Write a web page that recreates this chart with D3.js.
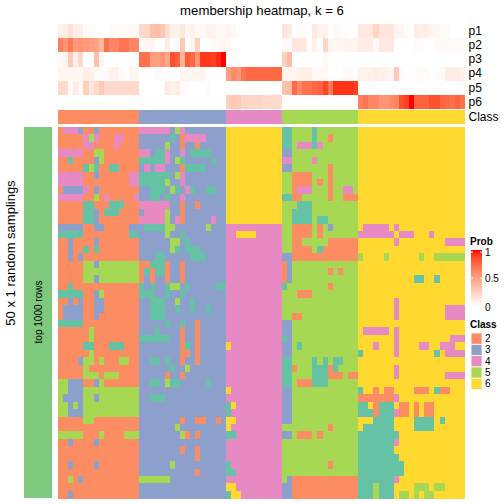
<!DOCTYPE html>
<html>
<head>
<meta charset="utf-8">
<script src="https://cdn.jsdelivr.net/npm/d3@7/dist/d3.min.js"></script>
<style>
html,body{margin:0;padding:0;background:#fff}
text{font-family:"Liberation Sans",Arial,sans-serif;fill:#000}
</style>
</head>
<body>
<svg id="chart" width="504" height="504"></svg>
<script>
const groupNames = [2,3,4,5,6];
const groupSizes = [16,17,11,15,21];
const legendClasses = ["2","3","4","5","6"];
const probRows = ["p1","p2","p3","p4","p5","p6"];
const p1 = [.07,.1,.16,.09,.09,.03,.03,0,0,0,.03,.03,.03,.01,.04,.04,
 .2,.22,.33,.35,.3,.17,.08,.08,.12,.05,.08,.04,.04,.07,.07,.04,.04,
 .06,.04,0,0,0,0,0,0,0,0,0,
 .15,.1,0,.02,.02,0,.12,.07,.07,0,.04,.02,.01,0,0,
 .12,.12,.12,.22,.14,.14,.14,.06,.06,.03,0,.1,.08,.1,.06,.05,.03,.02,0,0,0];
const p2 = [.65,.55,.68,.52,.55,.52,.5,.48,.38,.72,.62,.62,.7,.7,.62,.62,
 .03,.05,.05,0,0,.1,0,.04,.3,0,.05,.25,0,0,.03,.03,.05,
 .03,0,0,0,0,0,0,0,0,0,0,
 .04,.02,.13,.13,.12,0,.08,0,.22,.05,.05,.05,.06,.06,.05,
 .1,.1,.1,.03,.12,.12,.12,0,0,0,0,.02,.02,0,0,.03,.03,.03,.03,.03,.03];
const p3 = [.03,.06,.28,.08,.2,0,0,.33,.05,0,0,0,0,0,.02,.02,
 .72,.72,.5,.5,.55,.45,.85,.78,.4,.8,.75,.55,.92,.92,.9,.95,1,
 0,0,0,0,0,0,0,0,0,0,0,
 .25,.35,0,0,0,0,0,0,.03,0,0,0,0,0,0,
 0,0,0,0,0,0,0,0,0,0,0,0,0,0,0,0,0,0,0,0,0];
const p4 = [.05,.05,.05,.05,.05,.1,.07,.03,.02,.03,.07,.07,.02,0,.05,.05,
 0,0,0,.02,.02,.02,0,0,.05,.05,.05,.05,.05,0,0,0,0,
 .5,.6,.55,.7,.75,.75,.75,.75,.75,.75,.75,
 .05,.05,.05,.08,.08,.08,.04,.04,.04,0,0,0,.03,.03,0,
 .07,.07,.08,.1,.08,.07,.05,.28,.03,0,0,.02,.03,.02,0,.02,.03,.1,.1,.1,.07];
const p5 = [.2,.18,.03,.1,.05,.25,.13,.2,.28,.2,.2,.2,.2,.2,.2,.2,
 0,0,0,0,0,.12,.08,.1,.02,.02,0,0,0,.02,0,0,0,
 0,0,0,0,0,0,0,0,0,0,0,
 .33,.35,.75,.62,.72,.72,.76,.78,.88,.68,.93,.93,.93,.93,.9,
 0,0,0,0,0,0,0,0,0,0,0,0,0,0,0,0,0,0,0,0,0];
const p6 = [0,0,0,0,0,0,0,0,0,0,0,0,0,0,0,0,
 0,0,0,0,0,0,0,0,0,0,0,0,0,0,0,0,0,
 .25,.3,.28,.22,.22,.22,.22,.2,.2,.2,.2,
 0,0,0,0,0,0,0,0,0,0,0,0,0,0,0,
 .65,.7,.62,.62,.55,.55,.6,.62,.85,.9,1,.78,.78,.78,.85,.85,.78,.75,.72,.78,.72];
// each row: runs of count + class letter (t=1 o=2 b=3 p=4 g=5 y=6)
const sampleRows = [
"1o3p1b2o1b8o 6p1b1g1p8b 11y 2t4g1t8g 21y",
"5o1p1g1p3o2p3o 6b1t1b1o4p4b 11y 2t4g1t2g1o5g 21y",
"5o2p4o1p4o 5b1g2b1o2b1o5b 11y 2t1g3p1t1p7g 21y",
"5p2o2g7o 2p1b2t1p2b1p1b4t3b 11y 2b13g 21y",
"2o1t4o1b1g7o 5t1p1b1g1t5b1t2b 11y 2p4g1p8g 21y",
"5o1t1g1t2o2t4o 1b1p1b2p3b1o4t4b 11y 2b7g1o5g 21y",
"5p2o1b6o2p 6t1b1g1p8b 11y 2g4o3g1o5g 21y",
"5p9o2p 5t1g2b1p8b 11y 2g4o1g1o1g1o5g 21y",
"1o4b1p1o1b8o 2b3t1b1g1t1b1p1t2b2t2b 11y 2g1o3p3g1o2g2p1g 21y",
"5p2o1g1o1p5o1p 2b2t1b1t2b1p8b 11y 2t2o5g1o2g3o 21y",
"5o2t3o3t3o 6p2b1o2b1o5b 11y 3g3t9g 21y",
"5o2t1b1o3t4o 1b4p1g2b1o8b 11y 2g4t9g 21y",
"5o2t1b8o 5p1g1b1p1o5b1p2b 11y 2g4t1g2t6g 21y",
"5b2o2b5o2b 1b4t2g6b1g3b 11p 2g4o1g1o1g1b5g 1y5p1y1p13y",
"5t9o2t 5b1g2b1t8b 2p4y5p 2g4o1g1o7g 7p1y3p3y1p6y",
"2o1b4o1b8o 6b2g1b1t7b 11p 2g2o5g6o 7y1p9y4p",
"2o1b2o1t1o1t8o 6b1g1t1b3t5b 11p 2g4o1g1t7o 21y",
"2o1b1o1b11o 3b2t5b3t4b 11p 2b13o 1g4y1g6y1g2y6g",
"5o2g1b8g 2o3t1o2b1o8b 11p 1o1b13g 21y",
"5o11g 1o1t1o2t1o2b1o8b 11p 1o1b7g1o1g1o3g 21y",
"5o2g1b8g 1o1b1o2b1o2b1o8b 11p 1o1b13g 11y2t2y1t5y",
"2o1t13o 1t1b1t2b1t2g1b1t5b2t 11p 1t8g1o5g 21y",
"5t2o1b1g7o 3t2b1t2b1t8b 11p 3g3o9g 21y",
"2o1b1o1b2o2b7o 2b3t2b1g2b1t6b 11p 15g 7y1p13y",
"1o4b2o2b7o 2b3t2b1t2b1t2b1t3b 11p 15g 7y1p9y4p",
"1o4b2o1b8o 2b3t12b 11p 2g2o11g 7y1p9y4p",
"5t11o 5b1t2b1t2b1o5b 11p 2b13g 21y",
"6o1g9o 3b1t4b1o2b1o5b 11p 2b13g 1y5p1y1p13y",
"6o1g9o 6t2b1o2b1o5b 11p 1t1b13g 7y1p10y3p",
"5o2t3o3t3o 8b1o1t1b1o5b 1y10p 2b1g1t11g 3y1p3y1p4y2p2y3p2y",
"6o1g9o 8b2o1b1o5b 11p 2b13g 1t6y1p7y1t1y4p",
"4o1b2g1o1g3o2g2o 2b2t1b1t2b1o2b1o5b 11p 2t4g1t1g1t1g2t3g 21y",
"5o1g10o 6b1t2b1g7b 11p 2t1o3g3t1o1t4g 7y1p13y",
"5o3g1o3g4o 5b1o2b1o8b 11p 2t4g3t3o1g2o 7y1p9y4p",
"2g3b2o1b1g7o 2b2t1b1g2t5b1t3b 11p 2t1g3o3t6g 21y",
"2g3b11g 17b 1y10p 2b13g 1t2y1o1y2o4y3o1y1t2o3y",
"1g4b2g1b8g 2b3t12b 11p 2b13g 7o1p13y",
"2g1b1g1b11g 17b 1t1y9p 2b13g 2t1y1o3t1y2o1y1o1y2o6y",
"2g3b11g 17b 1t10p 2b13g 3t1o3t1p2o1y1o1y2o6y",
"5o2g9o 8b1o2b2o2b1o1b 2y9p 2b13g 3y4t4y4t1y1t4y",
"16o 7b1g9b 1y10p 9g1o5g 1y6t4y4t6y",
"5g3o1g4o3g 8b1g1o1b1o5b 2t9p 2b1g3o1g1o7g 8t13y",
"2o1b4o1b8o 17b 11p 15g 7t1p13y",
"16o 8b1o2b1o5b 11p 15g 7t14y",
"16o 11b1o5b 11p 15g 8t13y",
"2o1b4o1b8o 6b1g10b 1t10p 9g1o5g 9t12y",
"16o 11b1o5b 2t9p 15g 9t12y",
"2o1g1o1b11o 6g11b 11p 1g1b13o 7t1p13y",
"16o 17b 2y9p 2b13o 3t1g3t4y3g1y2g4y",
"2o1b13o 17b 1t2y8p 2b13o 3t1g3t1y2g1y1g1y2g6y"
];
const classLetters = {t:1,o:2,b:3,p:4,g:5,y:6};
const classPalette = ["#66C2A5","#FC8D62","#8DA0CB","#E78AC3","#A6D854","#FFD92F"];

const probSeries = [p1,p2,p3,p4,p5,p6];
const matrix = sampleRows.map((s,i)=>{
  const out=[];
  for(const m of s.matchAll(/(\d+)([a-z])/g)) for(let k=0;k<+m[1];k++) out.push(classLetters[m[2]]);
  if(out.length!==80) console.error("row",i,"has",out.length);
  return out;
});
const colClass = groupNames.flatMap((g,i)=>d3.range(groupSizes[i]).map(()=>g));
probSeries.forEach((p,i)=>{ if(p.length!==80) console.error(probRows[i],p.length); });

const svg = d3.select("#chart");
const colIdx = d3.range(80);
const x = d3.scaleBand().domain(colIdx).range([58,465]);
const y = d3.scaleBand().domain(d3.range(sampleRows.length)).range([127,498.2]);
const yTop = d3.scaleBand().domain(probRows).range([24,109]);
const colorClass = d3.scaleOrdinal().domain([1,2,3,4,5,6]).range(classPalette);
const colorProb = d3.scaleLinear().domain([0,1]).range(["#ffffff","#ff0000"]).interpolate(d3.interpolateLab);

// title
svg.append("text").attr("x",262).attr("y",14.6).attr("text-anchor","middle").attr("font-size",13.2).text("membership heatmap, k = 6");

// probability heatmap
const gp = svg.append("g").attr("shape-rendering","crispEdges");
probRows.forEach((name,i)=>{
  gp.selectAll(null).data(probSeries[i]).join("rect")
    .attr("x",(d,c)=>x(c)).attr("y",yTop(name))
    .attr("width",x.bandwidth()+.3).attr("height",yTop.bandwidth()+.2)
    .attr("fill",d=>colorProb(d));
});
// row labels (right axis)
const axisTop = svg.append("g").attr("transform","translate(465,0)")
  .call(d3.axisRight(yTop).tickSize(0).tickPadding(3.5));
axisTop.select(".domain").remove();
axisTop.selectAll("text").attr("font-size",12).style("font-family",'"Liberation Sans",Arial,sans-serif');

// class annotation
svg.append("g").attr("shape-rendering","crispEdges").selectAll("rect").data(colClass).join("rect")
  .attr("x",(d,c)=>x(c)).attr("y",110).attr("width",x.bandwidth()+.3).attr("height",14)
  .attr("fill",d=>colorClass(d));
svg.append("text").attr("x",468.5).attr("y",117).attr("dy","0.35em").attr("font-size",12).text("Class");

// main matrix
const gm = svg.append("g").attr("shape-rendering","crispEdges");
gm.selectAll("g").data(matrix).join("g").attr("transform",(d,r)=>`translate(0,${y(r)})`)
  .selectAll("rect").data(d=>d).join("rect")
  .attr("x",(d,c)=>x(c)).attr("width",x.bandwidth()+.3).attr("height",y.bandwidth()+.3)
  .attr("fill",d=>colorClass(d));

// left annotation
svg.append("rect").attr("x",24).attr("y",127).attr("width",28).attr("height",371.2).attr("fill","#7FC97F").attr("shape-rendering","crispEdges");
svg.append("text").attr("transform","translate(38,312) rotate(-90)").attr("text-anchor","middle").attr("dy","0.35em").attr("font-size",10).text("top 1000 rows");
svg.append("text").attr("transform","translate(10.5,253) rotate(-90)").attr("text-anchor","middle").attr("dy","0.35em").attr("font-size",13).text("50 x 1 random samplings");

// Prob legend
svg.append("text").attr("x",470).attr("y",245).attr("font-size",10).attr("font-weight","bold").text("Prob");
const defs = svg.append("defs");
const lg = defs.append("linearGradient").attr("id","probGrad").attr("x1",0).attr("x2",0).attr("y1",1).attr("y2",0);
d3.range(0,1.01,.1).forEach(t=>lg.append("stop").attr("offset",t).attr("stop-color",colorProb(t)));
const legY = d3.scaleLinear().domain([0,1]).range([306,250]);
svg.append("rect").attr("x",471).attr("y",legY(1)).attr("width",11).attr("height",legY(0)-legY(1)).attr("fill","url(#probGrad)");
const probTicks = [0,0.5,1];
svg.append("g").selectAll("path").data(probTicks).join("path")
  .attr("d",d=>{const v=d===1?legY(d)+2:d===0?legY(d)-1:legY(d);return `M471,${v}h2M480,${v}h2`;})
  .attr("stroke","#fff").attr("stroke-width",1);
svg.append("g").selectAll("text").data(probTicks).join("text")
  .attr("x",485).attr("y",d=>d===1?legY(d)+2:d===0?legY(d)+1:legY(d)).attr("dy","0.35em").attr("font-size",10)
  .text(d=>d);

// Class legend
svg.append("text").attr("x",470).attr("y",328).attr("font-size",10).attr("font-weight","bold").text("Class");
const legC = d3.scaleBand().domain(legendClasses).range([333,389.5]);
const gl = svg.append("g");
gl.selectAll("rect").data(legendClasses).join("rect")
  .attr("x",471).attr("y",d=>legC(d)).attr("width",11).attr("height",legC.bandwidth())
  .attr("fill",d=>colorClass(+d)).attr("stroke","#fff").attr("stroke-width",.8);
gl.selectAll("text").data(legendClasses).join("text")
  .attr("x",485).attr("y",d=>legC(d)+legC.bandwidth()/2).attr("dy","0.35em").attr("font-size",10).text(d=>d);
</script>
</body>
</html>
